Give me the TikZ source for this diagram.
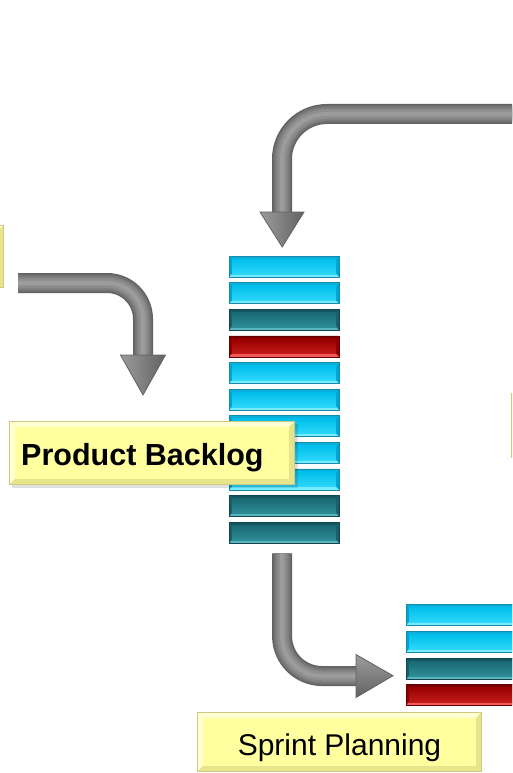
\documentclass[tikz,border=0pt]{standalone}
\usepackage{fontspec}
\setmainfont{Liberation Sans}
\usetikzlibrary{calc}

% bar palettes: outline, sides, top bevel, bottom bevel, face gradient
\definecolor{cyline}{RGB}{20,140,175}
\definecolor{cyside}{RGB}{0,165,210}
\definecolor{cytop}{RGB}{10,175,220}
\definecolor{cylow}{RGB}{120,235,255}
\definecolor{cyfaceA}{RGB}{0,190,235}
\definecolor{cyfaceB}{RGB}{45,215,250}

\definecolor{tlline}{RGB}{15,70,80}
\definecolor{tlside}{RGB}{25,95,105}
\definecolor{tltop}{RGB}{20,85,95}
\definecolor{tllow}{RGB}{90,180,190}
\definecolor{tlfaceA}{RGB}{25,105,115}
\definecolor{tlfaceB}{RGB}{45,140,150}

\definecolor{rdline}{RGB}{100,0,0}
\definecolor{rdside}{RGB}{140,0,0}
\definecolor{rdtop}{RGB}{120,0,0}
\definecolor{rdlow}{RGB}{240,90,90}
\definecolor{rdfaceA}{RGB}{150,0,0}
\definecolor{rdfaceB}{RGB}{195,25,25}

% label boxes
\definecolor{ybedge}{RGB}{205,200,130}
\definecolor{yblight}{RGB}{255,255,210}
\definecolor{ybdark}{RGB}{232,228,140}
\definecolor{ybface}{RGB}{255,255,160}

% grey tube arrows, from the rim inwards
\definecolor{tubeA}{RGB}{98,98,98}
\definecolor{tubeB}{RGB}{115,115,115}
\definecolor{tubeC}{RGB}{130,130,130}
\definecolor{tubeD}{RGB}{143,143,143}
\definecolor{tubeE}{RGB}{156,156,156}

\tikzset{
  tubeA/.style={line width=20pt, draw=tubeA},
  tubeB/.style={line width=17pt, draw=tubeB},
  tubeC/.style={line width=13pt, draw=tubeC},
  tubeD/.style={line width=9pt, draw=tubeD},
  tubeE/.style={line width=4pt, draw=tubeE},
  headdown/.style={left color=tubeE, right color=tubeA, draw=tubeA, line width=0.8pt},
  headright/.style={top color=tubeE, bottom color=tubeA, draw=tubeA, line width=0.8pt},
  labeltext/.style={inner sep=0pt, text=black, font=\fontsize{30}{36}\selectfont},
}

% one bevelled bar: name, x, y (top), width, palette
\newcommand\bevelbar[5]{%
  \begin{scope}[shift={(#2,#3)}]
    \fill[#5side] (0,0) rectangle (#4,21);
    \fill[#5top] (0,0) -- (#4,0) -- (#4-3,3) -- (3,3) -- cycle;
    \fill[#5low] (0,21) -- (#4,21) -- (#4-3,18) -- (3,18) -- cycle;
    \shade[top color=#5faceA, bottom color=#5faceB] (3,3) rectangle (#4-3,18);
    \draw[#5line, line width=0.6pt] (0,0) rectangle (#4,21);
    \node[inner sep=0pt, minimum width=#4, minimum height=21, anchor=north west] (#1) at (0,0) {};
  \end{scope}}

% one bevelled label box: name, x1, y1, x2, y2
\newcommand\notebox[5]{%
  \fill[ybedge] (#2,#3) rectangle (#4,#5);
  \fill[yblight] (#2+1,#3+1) -- (#4-1,#3+1) -- (#4-6,#3+6) -- (#2+6,#3+6)
      -- (#2+6,#5-6) -- (#2+1,#5-1) -- cycle;
  \fill[ybdark] (#4-1,#3+1) -- (#4-1,#5-1) -- (#2+1,#5-1) -- (#2+6,#5-6)
      -- (#4-6,#5-6) -- (#4-6,#3+6) -- cycle;
  \fill[ybface] (#2+6,#3+6) rectangle (#4-6,#5-6);
  \node[inner sep=0pt, minimum width={#4-#2}, minimum height={#5-#3}]
      (#1) at ({(#2+#4)/2},{(#3+#5)/2}) {};}

% a tube shaft drawn in layers: corner radius, path
\newcommand\tubepath[2]{%
  \foreach \layer in {tubeA,tubeB,tubeC,tubeD,tubeE}{
    \draw[\layer, rounded corners=#1] #2;
  }}

\begin{document}
\begin{tikzpicture}[x=1pt,y=-1pt]
\useasboundingbox (0,0) rectangle (512,773);
\clip (0,0) rectangle (512,773);
\fill[white] (0,0) rectangle (512,773);

% boxes running off the edges
\notebox{feed}{-100}{225}{4}{288}
\notebox{review}{511}{393}{640}{458}

% product backlog stack
\foreach \i/\p in {1/cy,2/cy,3/tl,4/rd,5/cy,6/cy,7/cy,8/cy,9/cy,10/tl,11/tl}{
  \bevelbar{b\i}{229}{256+26.6*(\i-1)}{110}{\p}
}

% sprint backlog stack
\foreach \i/\p/\y in {1/cy/604,2/cy/631,3/tl/658,4/rd/684}{
  \bevelbar{s\i}{406}{\y}{110}{\p}
}

% arrow from the left box down towards the backlog label
\coordinate (a1s) at (18,283);
\coordinate (a1c) at (143,283);
\coordinate (a1e) at (143,355);
\coordinate (a1t) at (143,395);
\tubepath{36pt}{(a1s) -- (a1c) -- (a1e)}
\path[headdown] ($(a1e)+(-22.5,0)$) -- ($(a1e)+(22.5,0)$) -- (a1t) -- cycle;

% feedback arrow into the top of the backlog
\coordinate (a2s) at (530,114);
\coordinate (a2c) at (282,114);
\coordinate (a2e) at (282,212);
\coordinate (a2t) at ($(b1.north)+(-2,-9)$);
\tubepath{45pt}{(a2s) -- (a2c) -- (a2e)}
\path[headdown] ($(a2e)+(-22,0)$) -- ($(a2e)+(22,0)$) -- (a2t) -- cycle;

% arrow from the backlog to the sprint stack
\coordinate (a3s) at ($(b11.south)+(-2,10)$);
\coordinate (a3c) at (282,676);
\coordinate (a3e) at (356,676);
\coordinate (a3t) at ($(s3.west)+(-13,7)$);
\tubepath{40pt}{(a3s) -- (a3c) -- (a3e)}
\path[headright] ($(a3e)+(0,-21.5)$) -- ($(a3e)+(0,21.5)$) -- (a3t) -- cycle;

% labels
\fill[black, opacity=0.12] (12,424) rectangle (298,488);
\notebox{pb}{9}{421}{295}{485}
\node[labeltext, font=\bfseries\fontsize{30.5}{36}\selectfont, anchor=base west] (pbtext) at (21,465) {Product Backlog};

\notebox{sp}{197}{712}{482}{772}
\node[labeltext, anchor=base] (sptext) at (339.5,755) {Sprint Planning};
\end{tikzpicture}
\end{document}
